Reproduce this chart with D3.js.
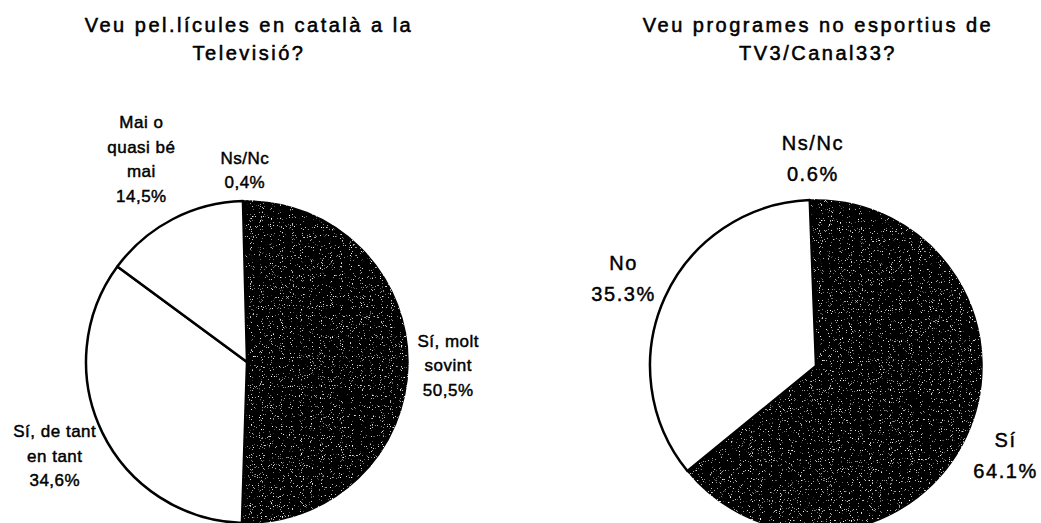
<!DOCTYPE html>
<html><head><meta charset="utf-8">
<script src="https://cdn.jsdelivr.net/npm/d3@7"></script>
<style>body{margin:0;background:#fff}svg{display:block}</style>
</head><body>
<svg id="c" width="1041" height="523"></svg>
<script>
// ---- data ----
const title1 = ["Veu pel.lícules en català a la", "Televisió?"];
const categories1 = ["Sí, molt sovint", "Sí, de tant en tant", "Mai o quasi bé mai", "Ns/Nc"];
const labelLines1 = [["Sí, molt", "sovint"], ["Sí, de tant", "en tant"], ["Mai o", "quasi bé", "mai"], ["Ns/Nc"]];
const values1 = [50.5, 34.6, 14.5, 0.4];

const title2 = ["Veu programes no esportius de", "TV3/Canal33?"];
const categories2 = ["Sí", "No", "Ns/Nc"];
const labelLines2 = [["Sí"], ["No"], ["Ns/Nc"]];
const values2 = [64.1, 35.3, 0.6];

// ---- layout / style ----
const charts = [
  {title: title1, cats: categories1, lines: labelLines1, values: values1,
   dark: [true, false, false, true],
   cx: 247, cy: 362, r: 161, fs: 17, lh: 24.5, ls: 0.5, dist: [201, 214, 229, 192], dec: ","},
  {title: title2, cats: categories2, lines: labelLines2, values: values2,
   dark: [true, false, true],
   cx: 816, cy: 366, r: 166, fs: 20, lh: 31, ls: 1.6, dist: [209, 212, 208], dec: "."}
];

const svg = d3.select("#c");
const defs = svg.append("defs");
const f = defs.append("filter").attr("id", "speckle")
  .attr("x", "-5%").attr("y", "-5%").attr("width", "110%").attr("height", "110%");
f.append("feTurbulence").attr("type", "fractalNoise").attr("baseFrequency", 0.9)
  .attr("numOctaves", 1).attr("seed", 7).attr("result", "noise");
f.append("feColorMatrix").attr("in", "noise").attr("type", "matrix")
  .attr("values", "0 0 0 0 1  0 0 0 0 1  0 0 0 0 1  9 0 0 0 -5.85").attr("result", "dots");
f.append("feComposite").attr("in", "dots").attr("in2", "SourceGraphic").attr("operator", "in").attr("result", "dc");
const fm = f.append("feMerge");
fm.append("feMergeNode").attr("in", "SourceGraphic");
fm.append("feMergeNode").attr("in", "dc");

const font = "'Liberation Sans', Arial, sans-serif";

charts.forEach(ch => {
  const g = svg.append("g").attr("transform", `translate(${ch.cx},${ch.cy})`);
  const pie = d3.pie().sort(null).value(d => d)(ch.values);
  const arc = d3.arc().innerRadius(0).outerRadius(ch.r);

  // dark slices (merged pattern fill)
  g.selectAll("path.k").data(pie.filter(d => ch.dark[d.index])).join("path")
    .attr("class", "k").attr("d", arc)
    .attr("fill", "#000").attr("stroke", "#000").attr("stroke-width", 1.5)
    .attr("filter", "url(#speckle)");
  // white slices
  g.selectAll("path.w").data(pie.filter(d => !ch.dark[d.index])).join("path")
    .attr("class", "w").attr("d", arc)
    .attr("fill", "#fff").attr("stroke", "#000").attr("stroke-width", 2.5)
    .attr("stroke-linejoin", "round");

  // labels
  const fmt = v => d3.format(".1f")(v).replace(".", ch.dec) + "%";
  const cap = ch.fs * 0.716;
  pie.forEach((d, i) => {
    const mid = (d.startAngle + d.endAngle) / 2;
    const x = ch.dist[i] * Math.sin(mid);
    const y = -ch.dist[i] * Math.cos(mid);
    const lines = ch.lines[i].concat([fmt(d.value)]);
    const n = lines.length;
    const y0 = y - ((n - 1) * ch.lh + cap) / 2 + cap;
    const t = g.append("text").attr("text-anchor", "middle")
      .attr("font-family", font).attr("font-size", ch.fs)
      .attr("stroke", "#000").attr("stroke-width", 0.45)
      .attr("letter-spacing", ch.ls).attr("fill", "#000");
    lines.forEach((l, k) => {
      t.append("tspan").attr("x", x + ch.ls / 2).attr("y", y0 + k * ch.lh).text(l);
    });
  });

  // title
  const tt = svg.append("text").attr("text-anchor", "middle")
    .attr("font-family", font).attr("font-size", 20)
    .attr("stroke", "#000").attr("stroke-width", 0.55)
    .attr("letter-spacing", 2.5).attr("fill", "#000");
  ch.title.forEach((l, k) => {
    tt.append("tspan").attr("x", ch.cx + 2).attr("y", 32 + k * 28).text(l);
  });
});
</script>
</body></html>
